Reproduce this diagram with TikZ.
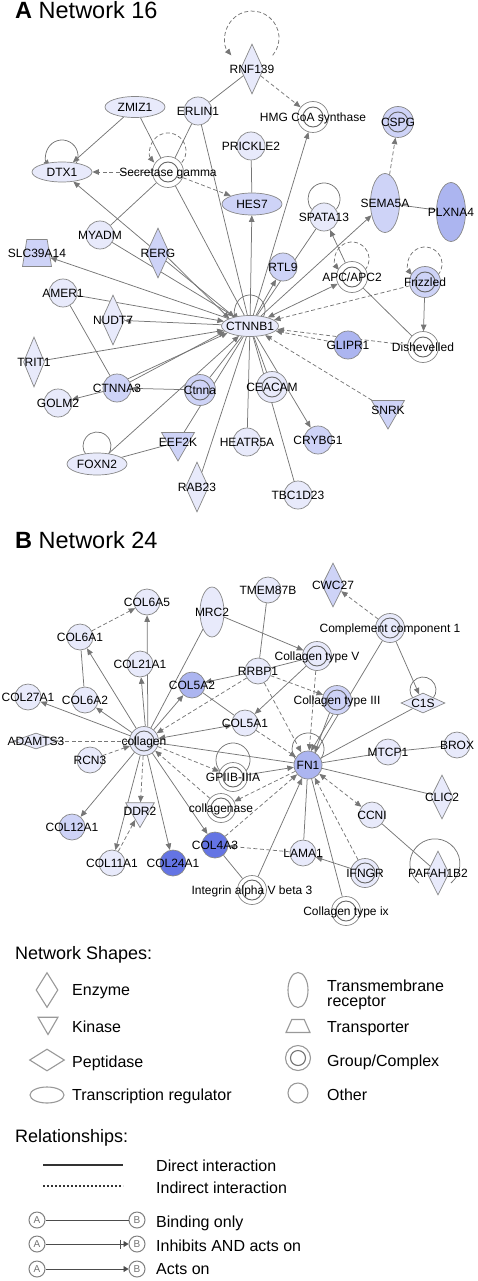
\documentclass[tikz,border=0pt]{standalone}
\usepackage{fontspec}
\setmainfont{Liberation Sans}
\usetikzlibrary{shapes.geometric,arrows.meta,backgrounds,calc}
\definecolor{c1}{RGB}{232,234,251}
\definecolor{c2}{RGB}{206,211,247}
\definecolor{c3}{RGB}{172,181,240}
\definecolor{c4}{RGB}{100,116,228}
\definecolor{ln}{RGB}{118,118,118}
\definecolor{bd}{RGB}{135,135,135}
% gene node: shape first, then its label on top
\newcommand{\gn}[4]{\node[#1] (#2) at (#3) {\phantom{\rule{1pt}{1pt}}};\node[lbl] (#2-t) at (#2) {#4};}
% self loop: radius, height of loop centre over node centre
\newcommand{\sloop}[4][di]{\draw[#1] ($(#2)+({0.766*#3},{#4-0.643*#3})$) arc[start angle=-40,end angle=220,radius=#3pt];}

\begin{document}
\begin{tikzpicture}[x=1pt, y=1pt, >={Triangle[length=6.5pt,width=5.5pt]}]
    \tikzset{
        nd/.style ={draw=bd, line width=0.7pt, inner sep=0pt, fill=c1},
        gen/.style={nd, circle, minimum size=28pt},
        grp/.style={nd, circle, minimum size=31pt, fill=white,
                    path picture={\draw[black!60, line width=0.9pt]
                        (path picture bounding box.center) circle (10pt);}},
        enz/.style={nd, diamond, minimum width=23pt, minimum height=50pt},
        pep/.style={nd, diamond, minimum width=44pt, minimum height=20pt},
        kin/.style={nd, regular polygon, regular polygon sides=3,
                    shape border rotate=180, minimum size=38pt},
        trx/.style={nd, ellipse, minimum width=60pt, minimum height=21pt},
        tmr/.style={nd, ellipse, minimum width=29pt, minimum height=59pt},
        trp/.style={nd, trapezium, trapezium left angle=78, trapezium right angle=78,
                    trapezium stretches, minimum width=29pt, minimum height=27pt},
        lbl/.style={font=\fontsize{12}{12}\selectfont, inner sep=0pt,
                    text height=8.6pt, text depth=0pt},
        di/.style ={draw=ln, line width=0.75pt},
        ind/.style={di, dash pattern=on 4pt off 2.5pt},
        ttl/.style={anchor=base west, inner sep=0pt, font=\fontsize{23.5}{26}\selectfont},
        hdr/.style={anchor=base west, inner sep=0pt, font=\fontsize{18}{20}\selectfont},
        ltx/.style={anchor=base west, inner sep=0pt, font=\fontsize{16}{16}\selectfont},
        lsh/.style={draw=black!40, line width=1.1pt, fill=white, inner sep=0pt},
        abn/.style={circle, draw=black!50, line width=1pt, minimum size=16pt,
                    inner sep=0pt, text=black!55, font=\fontsize{10}{10}\selectfont}
    }
    \useasboundingbox (0,0) rectangle (477,-1281);

    %% ---- A: Network 16 ----
    \node[ttl] (ta) at (15,-18.5) {\textbf{A} Network 16};
    \gn{enz}{rnf}{252,-69}{RNF139}
    \gn{gen}{erlin}{198,-111}{ERLIN1}
    \gn{trx}{zmiz}{135,-107}{ZMIZ1}
    \gn{trx,minimum height=20pt}{dtx}{62,-172}{DTX1}
    \gn{grp}{secg}{168,-172}{Secretase gamma}
    \gn{grp}{hmg}{313,-117}{HMG CoA synthase}
    \gn{grp,fill=c2}{cspg}{398,-122}{CSPG}
    \gn{gen}{prk}{251,-146}{PRICKLE2}
    \gn{trx,minimum height=22pt,fill=c2}{hes}{252,-204}{HES7}
    \gn{gen}{spa}{324,-217}{SPATA13}
    \gn{tmr,fill=c2}{sema}{385,-203}{SEMA5A}
    \gn{tmr,fill=c3}{plx}{451,-212}{PLXNA4}
    \gn{gen}{myadm}{100,-235}{MYADM}
    \gn{enz,fill=c2}{rerg}{158,-253}{RERG}
    \gn{trp,fill=c2}{slc}{37,-253}{SLC39A14}
    \gn{gen,fill=c2}{rtl}{283,-267}{RTL9}
    \gn{grp}{apc}{352,-277}{APC/APC2}
    \gn{grp,fill=c2}{friz}{425,-282}{Frizzled}
    \gn{gen}{amer}{63,-293}{AMER1}
    \gn{enz}{nudt}{113,-320}{NUDT7}
    \gn{trx,minimum width=57pt}{ctn}{250,-326}{CTNNB1}
    \gn{grp}{dish}{423,-347}{Dishevelled}
    \gn{gen,fill=c3}{glip}{348,-345}{GLIPR1}
    \gn{enz,minimum width=21pt}{trit}{34,-362}{TRIT1}
    \gn{gen,fill=c2}{ctna3}{117,-388}{CTNNA3}
    \gn{grp,fill=c2}{ctnna}{200,-390}{Ctnna}
    \gn{grp,fill=c1}{ceac}{272,-387}{CEACAM}
    \gn{gen}{golm}{58,-403}{GOLM2}
    \gn{kin,fill=c2}{snrk}{388,-410}{SNRK}
    \gn{gen,fill=c2}{crybg}{318,-440}{CRYBG1}
    \gn{gen}{heat}{247,-442}{HEATR5A}
    \gn{kin,fill=c2}{eef}{178,-442}{EEF2K}
    \gn{trx,minimum height=22pt}{foxn}{97,-464}{FOXN2}
    \gn{enz}{rab}{197,-487}{RAB23}
    \gn{gen}{tbc}{298,-495}{TBC1D23}

    \begin{scope}[on background layer]
        \draw[di,->]  (zmiz) -- (dtx);
        \draw[di]     (zmiz) -- (secg);
        \draw[di]     (erlin) -- (secg);
        \draw[ind,->] (secg) -- (dtx);
        \draw[ind,->] (secg) -- (hes);
        \draw[di]     (myadm) -- (secg);
        \draw[di,->]  (rerg) -- (dtx);
        \draw[di]     (secg) -- (ctn);
        \draw[di]     (erlin) -- (ctn);
        \draw[di]     (rnf) -- (erlin);
        \draw[ind,->] (rnf) -- (hmg);
        \draw[di,->]  (ctn) -- (hmg);
        \draw[di]     (prk) -- (hes);
        \draw[di,->]  (ctn) -- (hes);
        \draw[di]     (sema) -- (plx);
        \draw[ind,->] (sema) -- (cspg);
        \draw[di,->]  (ctn) -- (sema);
        \draw[di]     (spa) -- (ctn);
        \draw[di,->]  (ctn) -- (rtl);
        \draw[di,->]  (apc) -- (spa);
        \draw[di,<->] (ctn) -- (apc);
        \draw[ind,->] (friz) -- (ctn);
        \draw[di,->]  (friz) -- (dish);
        \draw[ind,->] (dish) -- (ctn);
        \draw[di]     (dish) -- (apc);
        \draw[ind,->] (glip) -- (ctn);
        \draw[ind,->] (snrk) -- (ctn);
        \draw[di]     (ctn) -- (ceac);
        \draw[di,->]  (ctn) -- (crybg);
        \draw[di]     (ctn) -- (heat);
        \draw[di]     (ctn) -- (tbc);
        \draw[di]     (myadm) -- (ctn);
        \draw[di,->]  (rerg.-25) -- (ctn.160);
        \draw[di,->]  (rerg.-45) -- (ctn.150);
        \draw[di,->]  (ctn) -- (slc);
        \draw[di,->]  (amer) -- (ctn);
        \draw[di]     (amer) -- (ctna3);
        \draw[di,->]  (ctn) -- (nudt);
        \draw[di,->]  (trit) -- (ctn);
        \draw[di,->]  (ctna3) -- (golm);
        \draw[di,->]  (ctna3.40) -- (ctn.197);
        \draw[di,->]  (ctna3.25) -- (ctn.192);
        \draw[di,->]  (ctnna) -- (ctna3);
        \draw[di]     (ctnna) -- (ctn);
        \draw[di,->]  (foxn) -- (ctn);
        \draw[di]     (foxn) -- (eef);
        \draw[di]     (eef) -- (ctn);
        \draw[di]     (rab) -- (ctn);
        %% loops
        \sloop[ind,->]{rnf}{27}{31}
        \sloop[di,->]{dtx}{16}{16}
        \sloop[ind,->]{secg}{18}{21}
        \sloop{spa}{16}{18}
        \sloop[ind,->]{apc}{17}{18}
        \sloop[ind,->]{friz}{17}{18}
        \sloop[di,->]{ctn}{15}{16}
        \sloop{foxn}{14}{18}
    \end{scope}

    %% ---- B: Network 24 ----
    \node[ttl] (tb) at (15,-548) {\textbf{B} Network 24};
    \begin{scope}[gen/.append style={minimum size=26pt},
                  grp/.append style={minimum size=29pt}]
    \gn{gen}{c6a5}{147,-602}{COL6A5}
    \gn{tmr,minimum width=24pt,minimum height=50pt}{mrc}{212,-612}{MRC2}
    \gn{gen}{tmem}{268,-590}{TMEM87B}
    \gn{enz,fill=c2,minimum width=22pt,minimum height=44pt}{cwc}{333,-585}{CWC27}
    \gn{gen}{c6a1}{80,-637}{COL6A1}
    \gn{gen}{c21}{140,-664}{COL21A1}
    \gn{grp,fill=c1}{cc1}{390,-628}{Complement component 1}
    \gn{grp,fill=c1}{ct5}{317,-656}{Collagen type V}
    \gn{gen}{rrbp}{258,-671}{RRBP1}
    \gn{gen,fill=c3}{c5a2}{192,-685}{COL5A2}
    \gn{gen}{c27}{28,-697}{COL27A1}
    \gn{gen}{c6a2}{85,-700}{COL6A2}
    \gn{grp,fill=c2}{ct3}{337,-700}{Collagen type III}
    \gn{pep}{c1s}{423,-703}{C1S}
    \gn{pep,minimum width=45pt,minimum height=16pt}{adam}{36,-741}{ADAMTS3}
    \gn{gen}{c5a1}{245,-723}{COL5A1}
    \gn{grp,fill=c1}{col}{144,-741}{collagen}
    \gn{gen}{rcn}{90,-760}{RCN3}
    \gn{gen,fill=c3,minimum size=28pt}{fn}{308,-765}{FN1}
    \gn{gen}{mtcp}{388,-752}{MTCP1}
    \gn{gen}{brox}{457,-745}{BROX}
    \gn{grp}{gp}{233,-777}{GPIIB-IIIA}
    \gn{grp}{cgn}{221,-808}{collagenase}
    \gn{enz,minimum width=22pt,minimum height=44pt}{clic}{442,-797}{CLIC2}
    \gn{kin,minimum size=33pt}{ddr}{140,-811}{DDR2}
    \gn{gen}{ccni}{372,-815}{CCNI}
    \gn{gen,fill=c2}{c12}{72,-827}{COL12A1}
    \gn{gen,fill=c4}{c4a3}{215,-845}{COL4A3}
    \gn{gen}{lama}{303,-853}{LAMA1}
    \gn{grp,fill=c1}{ifn}{365,-873}{IFNGR}
    \gn{enz,minimum width=22pt,minimum height=44pt}{paf}{438,-873}{PAFAH1B2}
    \gn{gen}{c11}{112,-863}{COL11A1}
    \gn{gen,fill=c4}{c24}{173,-863}{COL24A1}
    \gn{grp}{itg}{252,-890}{Integrin alpha V beta 3}
    \gn{grp}{ct9}{346,-911}{Collagen type ix}
    \end{scope}

    \begin{scope}[on background layer]
        \draw[ind,->] (c6a1) -- (c6a5);
        \draw[di,->]  (col.85) -- (c21);
        \draw[di,->]  (col.75) -- (c6a5);
        \draw[di,->]  (col) -- (c6a1);
        \draw[di]     (c6a1) -- (c6a2);
        \draw[di,->]  (col) -- (c6a2);
        \draw[di,->]  (col) -- (c27);
        \draw[ind]    (adam) -- (col);
        \draw[ind,->] (rcn) -- (col);
        \draw[di,->]  (col) -- (c12);
        \draw[ind,->] (col) -- (ddr);
        \draw[di,->]  (col) -- (c11);
        \draw[ind,->] (c11) -- (ddr);
        \draw[di,->]  (col) -- (c24);
        \draw[di,->]  (col) -- (c4a3);
        \draw[di]     (mrc) -- (col);
        \draw[di,->]  (mrc) -- (ct5);
        \draw[di,->]  (col) -- (c5a2);
        \draw[ind,->] (rrbp) -- (col);
        \draw[di,<->] (col) -- (c5a1);
        \draw[di]     (c5a2) -- (c5a1);
        \draw[di,->]  (rrbp) -- (c5a2);
        \draw[di,->]  (ct5) -- (c5a1);
        \draw[di]     (rrbp) -- (ct5);
        \draw[di]     (tmem) -- (rrbp);
        \draw[ind,->] (rrbp) -- (ct3);
        \draw[ind,->] (ct5) -- (fn);
        \draw[ind,->] (cc1) -- (cwc);
        \draw[di,->]  (cc1) -- (c1s);
        \draw[di]     (cc1) -- (fn);
        \draw[di,->]  (ct3.255) -- (fn.78);
        \draw[di,->]  (ct3.240) -- (fn.62);
        \draw[di]     (c1s) -- (fn);
        \draw[ind,->] (c5a1) -- (fn);
        \draw[ind,->] (rrbp) -- (fn);
        \draw[di]     (col) -- (fn);
        \draw[di,->]  (gp) -- (fn);
        \draw[ind,->] (col) -- (gp);
        \draw[ind,->] (cgn) -- (col);
        \draw[ind,->] (fn) -- (cgn);
        \draw[ind,->] (c4a3) -- (fn);
        \draw[di]     (c4a3) -- (itg);
        \draw[di,->]  (itg) -- (fn);
        \draw[di]     (lama) -- (fn);
        \draw[ind,->] (lama) -- (c4a3);
        \draw[di,->]  (ifn) -- (lama);
        \draw[ind,->] (ifn) -- (fn);
        \draw[di]     (fn) -- (ct9);
        \draw[di]     (fn) -- (mtcp);
        \draw[di]     (mtcp) -- (brox);
        \draw[di]     (fn) -- (clic);
        \draw[ind,<->] (fn) -- (ccni);
        \draw[di]     (ccni) -- (paf);
        %% loops
        \sloop{fn}{16}{16}
        \sloop{gp}{17}{17}
        \sloop{c1s}{13}{13}
        \draw[di] ($(paf)+(13,-10)$) arc[start angle=-50,end angle=230,radius=25pt];
    \end{scope}

    %% ---- Legend ----
    \node[hdr] (hshp) at (15,-959) {Network Shapes:};
    \node[lsh, diamond, minimum width=22pt, minimum height=35pt] (lenz) at (47,-990) {};
    \node[ltx] (lenz-t) at (72,-995) {Enzyme};
    \node[lsh, regular polygon, regular polygon sides=3, shape border rotate=180,
          minimum size=23pt] (lkin) at (48,-1023) {};
    \node[ltx] (lkin-t) at (72,-1032) {Kinase};
    \node[lsh, diamond, minimum width=35pt, minimum height=22pt] (lpep) at (47,-1060) {};
    \node[ltx] (lpep-t) at (72,-1067) {Peptidase};
    \node[lsh, ellipse, minimum width=34pt, minimum height=16pt] (ltrx) at (47,-1095) {};
    \node[ltx] (ltrx-t) at (72,-1100) {Transcription regulator};
    \node[lsh, ellipse, minimum width=20pt, minimum height=35pt] (ltmr) at (298,-990) {};
    \node[ltx, anchor=north west, align=left, font=\fontsize{16}{15}\selectfont]
          (ltmr-t) at (327,-980) {Transmembrane\\receptor};
    \node[lsh, trapezium, trapezium left angle=65, trapezium right angle=65,
          trapezium stretches, minimum width=24pt, minimum height=13pt] (ltrp)
          at (298,-1026) {\phantom{\rule{1pt}{1pt}}};
    \node[ltx] (ltrp-t) at (327,-1032) {Transporter};
    \node[lsh, circle, minimum size=25pt] (lgrp) at (298,-1058) {};
    \node[lsh, circle, minimum size=15pt, draw=black!55] (lgrp-i) at (lgrp) {};
    \node[ltx] (lgrp-t) at (327,-1066) {Group/Complex};
    \node[lsh, circle, minimum size=20pt] (loth) at (298,-1093) {};
    \node[ltx] (loth-t) at (327,-1100) {Other};

    \node[hdr] (hrel) at (15,-1142) {Relationships:};
    \coordinate (ld1) at (43,-1165);
    \coordinate (ld2) at (123,-1165);
    \draw[line width=2.4pt, black!80] (ld1) -- (ld2);
    \node[ltx] (ld-t) at (156,-1171) {Direct interaction};
    \coordinate (li1) at (43,-1186);
    \coordinate (li2) at (123,-1186);
    \draw[line width=1.4pt, black!80, dash pattern=on 2pt off 2pt] (li1) -- (li2);
    \node[ltx] (li-t) at (156,-1193) {Indirect interaction};

    \node[abn] (ba1) at (37,-1220) {A};
    \node[abn] (bb1) at (137,-1220) {B};
    \draw[black!70, line width=0.9pt] (ba1) -- (bb1);
    \node[ltx] (bl1) at (156,-1227) {Binding only};
    \node[abn] (ba2) at (37,-1244) {A};
    \node[abn] (bb2) at (137,-1244) {B};
    \draw[black!70, line width=0.9pt, -{Triangle[length=5pt,width=6pt]}] (ba2) -- (bb2);
    \draw[black!70, line width=0.9pt] ($(bb2.west)+(-8,4.5)$) -- ++(0,-9);
    \node[ltx] (bl2) at (156,-1251) {Inhibits AND acts on};
    \node[abn] (ba3) at (37,-1269) {A};
    \node[abn] (bb3) at (137,-1269) {B};
    \draw[black!70, line width=0.9pt, -{Triangle[length=5pt,width=6pt]}] (ba3) -- (bb3);
    \node[ltx] (bl3) at (156,-1274) {Acts on};
\end{tikzpicture}
\end{document}
